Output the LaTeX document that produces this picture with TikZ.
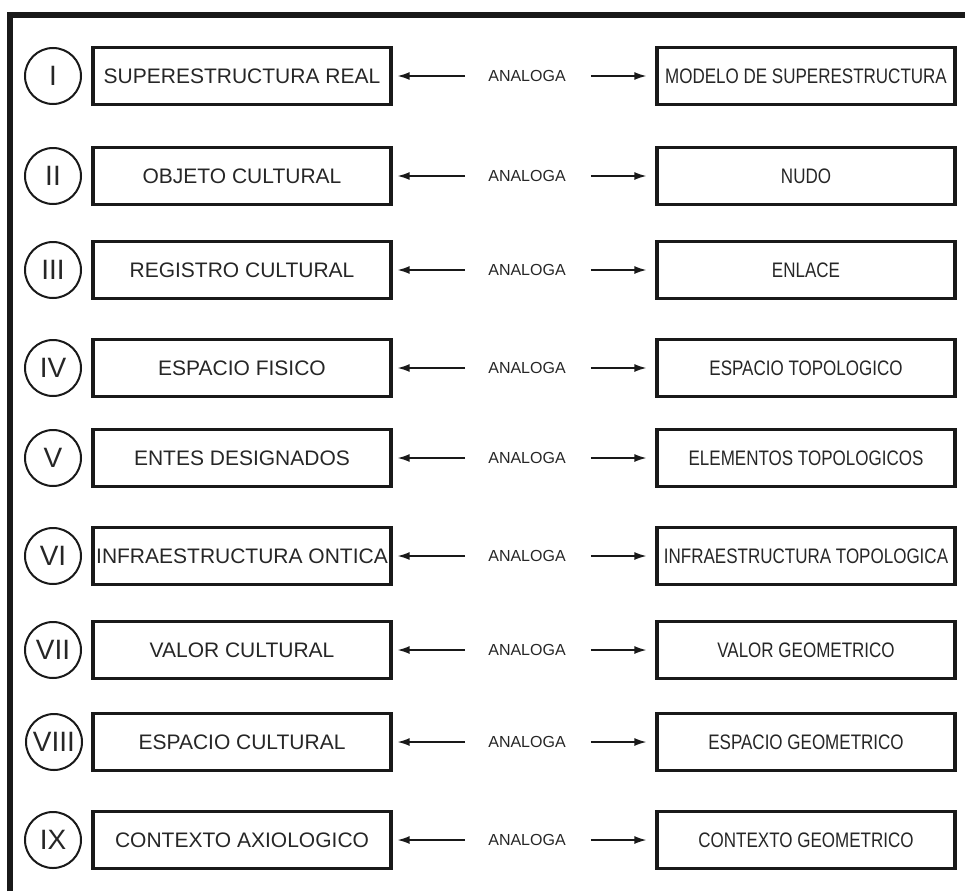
\documentclass[tikz,border=0pt]{standalone}
\usepackage{fontspec}
\setmainfont{Liberation Sans}
\newfontfamily\narrowfont[FakeStretch=0.81]{Liberation Sans}
\usetikzlibrary{arrows.meta}
\tikzset{
	numring/.style={draw=black!90, line width=2pt, circle, minimum size=56pt, inner sep=0pt, font=\fontsize{28}{28}\selectfont, text=black!85},
	leftbox/.style={draw=black!90, line width=3.3pt, minimum width=298pt, minimum height=57pt, inner sep=0pt, font=\fontsize{21}{21}\selectfont, text=black!85},
	rightbox/.style={leftbox, font=\narrowfont\fontsize{21}{21}\selectfont},
	analoga/.style={inner sep=0pt, font=\fontsize{16}{16}\selectfont, text=black!85},
	toleft/.style={-{Latex[length=12pt,width=8pt]}, line width=1.4pt, draw=black!90, shorten <=23pt, shorten >=5pt},
	toright/.style={-{Latex[length=12pt,width=8pt]}, line width=1.4pt, draw=black!90, shorten <=25pt, shorten >=9pt}
}

\begin{document}
\begin{tikzpicture}[x=1pt, y=-1pt]
			%%%%% START %%%%%
			\useasboundingbox (0, 0) rectangle (965, 891);
			
			\draw[line width=6pt, color=black!90] (9.5, 891) -- (9.5, 15.5) -- (965, 15.5);
			
			\node[numring] (n1) at (53, 76) {I};
			\node[leftbox] (l1) at (242, 76) {SUPERESTRUCTURA REAL};
			\node[analoga] (a1) at (527, 76) {ANALOGA};
			\node[rightbox] (r1) at (806, 76) {MODELO DE SUPERESTRUCTURA};
			\draw[toleft] (a1.west) -- (l1.east);
			\draw[toright] (a1.east) -- (r1.west);
			
			\node[numring] (n2) at (53, 176) {II};
			\node[leftbox] (l2) at (242, 176) {OBJETO CULTURAL};
			\node[analoga] (a2) at (527, 176) {ANALOGA};
			\node[rightbox] (r2) at (806, 176) {NUDO};
			\draw[toleft] (a2.west) -- (l2.east);
			\draw[toright] (a2.east) -- (r2.west);
			
			\node[numring] (n3) at (53, 270) {III};
			\node[leftbox] (l3) at (242, 270) {REGISTRO CULTURAL};
			\node[analoga] (a3) at (527, 270) {ANALOGA};
			\node[rightbox] (r3) at (806, 270) {ENLACE};
			\draw[toleft] (a3.west) -- (l3.east);
			\draw[toright] (a3.east) -- (r3.west);
			
			\node[numring] (n4) at (53, 368) {IV};
			\node[leftbox] (l4) at (242, 368) {ESPACIO FISICO};
			\node[analoga] (a4) at (527, 368) {ANALOGA};
			\node[rightbox] (r4) at (806, 368) {ESPACIO TOPOLOGICO};
			\draw[toleft] (a4.west) -- (l4.east);
			\draw[toright] (a4.east) -- (r4.west);
			
			\node[numring] (n5) at (53, 458) {V};
			\node[leftbox] (l5) at (242, 458) {ENTES DESIGNADOS};
			\node[analoga] (a5) at (527, 458) {ANALOGA};
			\node[rightbox] (r5) at (806, 458) {ELEMENTOS TOPOLOGICOS};
			\draw[toleft] (a5.west) -- (l5.east);
			\draw[toright] (a5.east) -- (r5.west);
			
			\node[numring] (n6) at (53, 556) {VI};
			\node[leftbox] (l6) at (242, 556) {INFRAESTRUCTURA ONTICA};
			\node[analoga] (a6) at (527, 556) {ANALOGA};
			\node[rightbox] (r6) at (806, 556) {INFRAESTRUCTURA TOPOLOGICA};
			\draw[toleft] (a6.west) -- (l6.east);
			\draw[toright] (a6.east) -- (r6.west);
			
			\node[numring] (n7) at (53, 650) {VII};
			\node[leftbox] (l7) at (242, 650) {VALOR CULTURAL};
			\node[analoga] (a7) at (527, 650) {ANALOGA};
			\node[rightbox] (r7) at (806, 650) {VALOR GEOMETRICO};
			\draw[toleft] (a7.west) -- (l7.east);
			\draw[toright] (a7.east) -- (r7.west);
			
			\node[numring] (n8) at (54, 742) {VIII};
			\node[leftbox] (l8) at (242, 742) {ESPACIO CULTURAL};
			\node[analoga] (a8) at (527, 742) {ANALOGA};
			\node[rightbox] (r8) at (806, 742) {ESPACIO GEOMETRICO};
			\draw[toleft] (a8.west) -- (l8.east);
			\draw[toright] (a8.east) -- (r8.west);
			
			\node[numring] (n9) at (53, 840) {IX};
			\node[leftbox] (l9) at (242, 840) {CONTEXTO AXIOLOGICO};
			\node[analoga] (a9) at (527, 840) {ANALOGA};
			\node[rightbox] (r9) at (806, 840) {CONTEXTO GEOMETRICO};
			\draw[toleft] (a9.west) -- (l9.east);
			\draw[toright] (a9.east) -- (r9.west);
			
			%%%%% END %%%%%
\end{tikzpicture}
\end{document}
